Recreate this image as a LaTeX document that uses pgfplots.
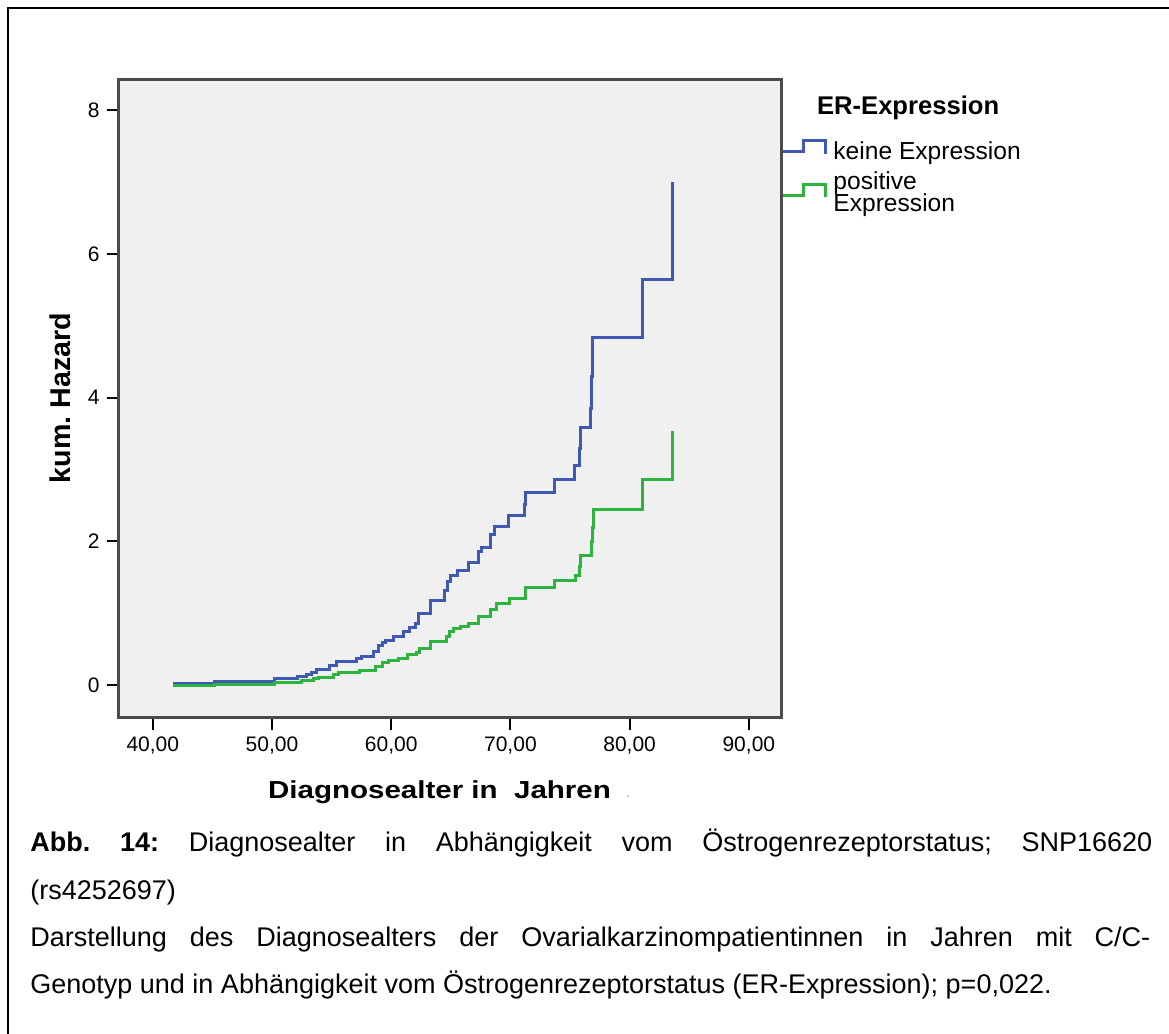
\documentclass[border=0pt]{standalone}
\usepackage{fontspec}
\setmainfont{Liberation Sans}
\usepackage{pgfplots}
\pgfplotsset{compat=1.18}
\usepackage{graphicx}
\definecolor{kmblue}{RGB}{62,88,180}
\definecolor{kmgreen}{RGB}{44,180,62}
\definecolor{bggray}{RGB}{240,240,240}
\definecolor{framegray}{RGB}{75,75,75}
\begin{document}
\frenchspacing
\begin{tikzpicture}
\begin{scope}[x=0.5pt,y=-0.5pt]
\path[use as bounding box, fill=white] (0,0) rectangle (1169,1034);
\draw[line width=1pt] (7.7,1034) -- (7.7,7.8) -- (1169,7.8);
\end{scope}
\begin{axis}[
  at={(59.35pt,-358.75pt)}, anchor=south west,
  scale only axis, width=331.4pt, height=319.25pt,
  xmin=37.14, xmax=92.74, ymin=-0.452, ymax=8.437,
  axis background/.style={fill=bggray},
  axis line style={draw=framegray, line width=1.5pt},
  xtick={40,50,60,70,80,90},
  xticklabels={{40,00},{50,00},{60,00},{70,00},{80,00},{90,00}},
  ytick={0,2,4,6,8},
  yticklabels={0,2,4,6,8},
  tick align=outside, tick pos=left,
  major tick length=6pt,
  tick style={black, line width=1pt},
  /pgf/number format/assume math mode=true,
  ticklabel style={font=\fontsize{10.5}{12}\selectfont},
  clip=false,
]
\addplot[const plot, kmblue, line width=1.5pt] coordinates {
(41.73,0.02) (45.2,0.05) (50.2,0.09) (52.1,0.12) (52.9,0.15) (53.3,0.17) (53.7,0.21) (54.8,0.27) (55.4,0.33) (57.1,0.37) (57.5,0.40) (58.5,0.47) (58.9,0.55) (59.3,0.59) (59.5,0.62) (60.2,0.68) (61.0,0.74) (61.5,0.80) (62.0,0.86) (62.3,0.99) (63.3,1.18) (64.5,1.32) (64.7,1.44) (65.0,1.53) (65.6,1.60) (66.5,1.70) (67.3,1.86) (67.6,1.91) (68.3,2.09) (68.7,2.21) (69.85,2.36) (71.2,2.52) (71.3,2.68) (73.7,2.86) (75.4,3.05) (75.8,3.30) (75.9,3.58) (76.75,3.85) (76.8,4.30) (76.9,4.84) (81.1,5.64) (83.57,7.0)
};
\addplot[const plot, kmgreen, line width=1.5pt] coordinates {
(41.73,0.00) (45.2,0.01) (50.2,0.03) (51.4,0.04) (52.5,0.06) (53.5,0.09) (53.9,0.11) (55.2,0.15) (55.6,0.17) (57.3,0.20) (58.7,0.26) (59.3,0.31) (59.8,0.34) (60.6,0.37) (61.4,0.42) (62.1,0.46) (62.4,0.51) (63.3,0.60) (64.6,0.68) (64.85,0.75) (65.2,0.79) (65.8,0.82) (66.5,0.86) (67.35,0.95) (68.3,1.05) (68.8,1.13) (69.9,1.21) (71.25,1.36) (73.7,1.46) (75.5,1.53) (75.8,1.65) (75.9,1.81) (76.8,2.00) (76.85,2.20) (76.95,2.45) (81.1,2.86) (83.57,3.54)
};
\end{axis}
\begin{scope}[x=0.5pt,y=-0.5pt]
% legend
\node[anchor=base west, inner sep=0, font=\fontsize{12.8}{14}\selectfont\bfseries] at (816.7,114.3) {ER-Expression};
\draw[kmblue, line width=1.5pt] (783,151.7) -- (803,151.7) -- (803,140.7) -- (825,140.7) -- (825,153.5);
\draw[kmgreen, line width=1.5pt] (783,195) -- (803,195) -- (803,184) -- (825,184) -- (825,196.5);
\node[anchor=base west, inner sep=0, font=\fontsize{12.3}{14}\selectfont] at (833,159) {keine Expression};
\node[anchor=base west, inner sep=0, font=\fontsize{12.3}{14}\selectfont] at (833,189) {positive};
\node[anchor=base west, inner sep=0, font=\fontsize{12.3}{14}\selectfont] at (833,211) {Expression};
% axis labels
\node[rotate=90, inner sep=0, font=\fontsize{14.3}{16}\selectfont\bfseries] at (60,398) {kum. Hazard};
\node[anchor=base, inner sep=0] at (439.5,798.5) {\scalebox{1.2}[1]{\fontsize{12.3}{14}\selectfont\bfseries Diagnosealter in\ \ Jahren}};
\node[anchor=base, inner sep=0, text=gray] at (628,797.7) {\fontsize{6}{7}\selectfont .};
% caption
\begin{scope}[every node/.style={anchor=base west, inner sep=0, font=\fontsize{13.5}{15}\selectfont}]
\node at (30,851.7) {\makebox[561pt][s]{\textbf{Abb. 14:} Diagnosealter in Abhängigkeit vom Östrogenrezeptorstatus; SNP16620}};
\node at (30,899) {(rs4252697)};
\node at (30,946.5) {\makebox[560pt][s]{Darstellung des Diagnosealters der Ovarialkarzinompatientinnen in Jahren mit C/C-}};
\node at (30,993) {Genotyp und in Abhängigkeit vom Östrogenrezeptorstatus (ER-Expression); p=0,022.};
\end{scope}
\end{scope}
\end{tikzpicture}
\end{document}
